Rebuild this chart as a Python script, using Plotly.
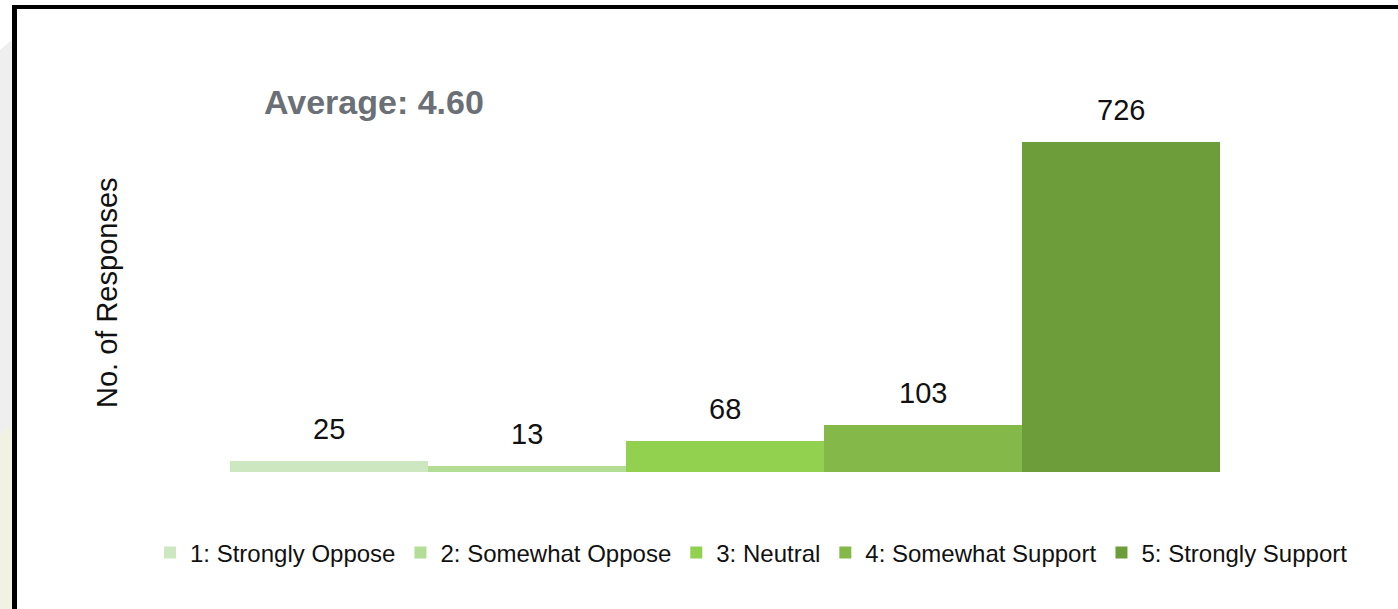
import plotly.graph_objects as go

# Survey responses by answer option
categories = ["1: Strongly Oppose", "2: Somewhat Oppose", "3: Neutral",
              "4: Somewhat Support", "5: Strongly Support"]
responses = [25, 13, 68, 103, 726]
average_label = "Average: 4.60"
bar_colors = ["#cde7c0", "#b3dc94", "#92d050", "#84b849", "#6d9c3b"]

W, H = 1398, 609
M_L, M_R, M_T, M_B = 230, 178, 60, 137
PLOT_W = W - M_L - M_R
PLOT_H = H - M_T - M_B

SANS = "Liberation Sans, Arial, sans-serif"


def px_x(px):
    """Pixel column -> paper x."""
    return (px - M_L) / PLOT_W


def px_y(py):
    """Pixel row -> paper y."""
    return (H - M_B - py) / PLOT_H


fig = go.Figure()
for i, (cat, val) in enumerate(zip(categories, responses)):
    fig.add_trace(go.Bar(
        x=[i], y=[val], name=cat, width=1,
        marker=dict(color=bar_colors[i], line=dict(width=0)),
        hoverinfo="y+name",
    ))
    fig.add_annotation(
        x=i, y=val, xref="x", yref="y", text=str(val), showarrow=False,
        yanchor="bottom", yshift=14,
        font=dict(family=SANS, size=29, color="#111111"),
    )

fig.add_annotation(
    x=px_x(262), y=px_y(102), xref="paper", yref="paper", text=average_label,
    showarrow=False, xanchor="left", yanchor="middle",
    font=dict(family=SANS, size=34, color="#6b6f76", weight="bold"),
)
fig.add_annotation(
    x=px_x(107), y=px_y(293), xref="paper", yref="paper", text="No. of Responses",
    showarrow=False, textangle=-90, xanchor="center", yanchor="middle",
    font=dict(family=SANS, size=29, color="#111111"),
)

shapes = [
    # soft backdrop strip at the left edge
    dict(type="path", xref="paper", yref="paper",
         path=f"M {px_x(0)},{px_y(50)} L {px_x(12)},{px_y(40)} L {px_x(12)},{px_y(425)} "
              f"L {px_x(0)},{px_y(435)} Z",
         fillcolor="#efefef", line=dict(width=0), layer="below"),
    dict(type="path", xref="paper", yref="paper",
         path=f"M {px_x(0)},{px_y(435)} L {px_x(12)},{px_y(425)} L {px_x(12)},{px_y(609)} "
              f"L {px_x(0)},{px_y(609)} Z",
         fillcolor="#f2f2e3", line=dict(width=0), layer="below"),
    # black frame
    dict(type="rect", xref="paper", yref="paper",
         x0=px_x(12), x1=px_x(1398), y0=px_y(9), y1=px_y(5),
         fillcolor="#000000", line=dict(width=0)),
    dict(type="rect", xref="paper", yref="paper",
         x0=px_x(12), x1=px_x(17), y0=px_y(609), y1=px_y(5),
         fillcolor="#000000", line=dict(width=0)),
]

fig.update_layout(
    width=W, height=H,
    margin=dict(l=M_L, r=M_R, t=M_T, b=M_B, pad=0),
    paper_bgcolor="#ffffff", plot_bgcolor="#ffffff",
    barmode="overlay", bargap=0,
    showlegend=True,
    legend=dict(
        orientation="h", x=px_x(150), y=px_y(553), xanchor="left", yanchor="middle",
        font=dict(family=SANS, size=24, color="#111111"),
        bgcolor="rgba(0,0,0,0)", traceorder="normal",
    ),
    xaxis=dict(range=[-0.5, 4.5], showticklabels=False, showgrid=False,
               zeroline=False, showline=False, ticks=""),
    yaxis=dict(range=[0, 906], showticklabels=False, showgrid=False,
               zeroline=False, showline=False, ticks=""),
    shapes=shapes,
)

fig.write_html("out.html")
